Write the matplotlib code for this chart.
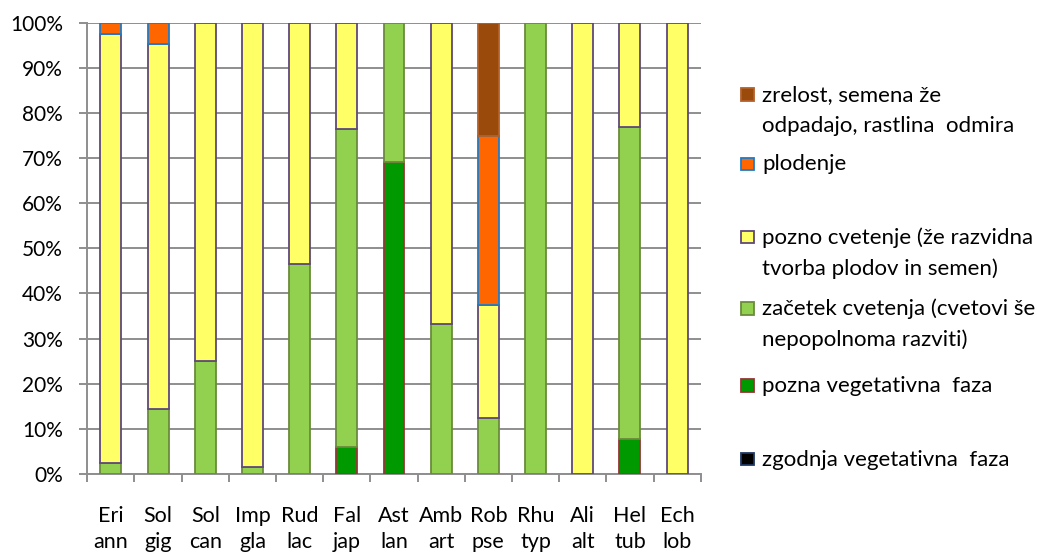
import matplotlib
matplotlib.use("Agg")
import matplotlib.pyplot as plt
from matplotlib.patches import Rectangle
from matplotlib.ticker import FuncFormatter, MultipleLocator, FixedLocator
import numpy as np

plt.rcParams['font.family'] = ['Lato', 'DejaVu Sans']

categories = ["Eri\nann", "Sol\ngig", "Sol\ncan", "Imp\ngla", "Rud\nlac", "Fal\njap", "Ast\nlan",
              "Amb\nart", "Rob\npse", "Rhu\ntyp", "Ali\nalt", "Hel\ntub", "Ech\nlob"]

zgodnja_veg = [0, 0, 0, 0, 0, 0, 0, 0, 0, 0, 0, 0, 0]
pozna_veg = [0, 0, 0, 0, 0, 5.9, 69.2, 0, 0, 0, 0, 7.7, 0]
zacetek_cvet = [2.4, 14.3, 25, 1.5, 46.5, 70.6, 30.8, 33.3, 12.5, 100, 0, 69.2, 0]
pozno_cvet = [95.2, 80.9, 75, 98.5, 53.5, 23.5, 0, 66.7, 25, 0, 100, 23.1, 100]
plodenje = [2.4, 4.8, 0, 0, 0, 0, 0, 0, 37.5, 0, 0, 0, 0]
zrelost = [0, 0, 0, 0, 0, 0, 0, 0, 25, 0, 0, 0, 0]

series_names = ["zgodnja vegetativna  faza", "pozna vegetativna  faza",
                "začetek cvetenja (cvetovi še\nnepopolnoma razviti)",
                "pozno cvetenje (že razvidna\ntvorba plodov in semen)",
                "plodenje",
                "zrelost, semena že\nodpadajo, rastlina  odmira"]
series = [zgodnja_veg, pozna_veg, zacetek_cvet, pozno_cvet, plodenje, zrelost]
fills = ['#000000', '#009900', '#92D050', '#FFFF66', '#FF6600', '#9A4A0B']
edges = ['#1F3864', '#953735', '#6B8B3D', '#5F497A', '#1C7CC9', '#B3612A']

W, H = 1037, 556
fig = plt.figure(figsize=(W / 100, H / 100), dpi=100)
left, right, top, bottom = 87.3, 700.7, 22.7, 474
ax = fig.add_axes([left / W, 1 - bottom / H, (right - left) / W, (bottom - top) / H])

x = np.arange(len(categories))
base = np.zeros(len(categories))
for vals, fc, ec in zip(series, fills, edges):
    v = np.array(vals, dtype=float)
    lw = [1.3 if a > 0 else 0 for a in v]
    ax.bar(x, v, bottom=base, width=0.445, color=fc, edgecolor=ec, linewidth=lw, zorder=3)
    base = base + v

grid_c = '#8E8E8E'
ax.set_xlim(-0.5, len(categories) - 0.5)
ax.set_ylim(0, 100)
ax.yaxis.set_major_locator(MultipleLocator(10))
ax.yaxis.set_major_formatter(FuncFormatter(lambda v, p: f"{int(round(v))}%"))
ax.grid(axis='y', color=grid_c, linewidth=1.4, zorder=0)
ax.set_axisbelow(True)

ax.set_xticks(x)
ax.set_xticklabels(categories, linespacing=1.4)
ax.xaxis.set_minor_locator(FixedLocator(np.arange(-0.5, len(categories), 1.0)))
ax.tick_params(axis='x', which='major', length=0, pad=23, labelsize=15.5, colors='black')
ax.tick_params(axis='x', which='minor', length=5.5, width=1.4, color=grid_c, direction='out')
ax.tick_params(axis='y', which='major', length=5.5, width=1.4, color=grid_c, direction='out',
               pad=12, labelsize=15, labelcolor='black')

for s in ['top', 'right']:
    ax.spines[s].set_visible(False)
for s in ['left', 'bottom']:
    ax.spines[s].set_color(grid_c)
    ax.spines[s].set_linewidth(1.4)

# legend (manually positioned, Excel-style)
leg_rows = [(5, 94.5), (4, 164), (3, 237), (2, 308.5), (1, 385.5), (0, 459)]
sq = 12.5
for idx, yc in leg_rows:
    x0 = 741
    fig.patches.append(Rectangle((x0 / W, 1 - (yc + sq / 2) / H), 13 / W, sq / H,
                                 transform=fig.transFigure, facecolor=fills[idx],
                                 edgecolor=edges[idx], linewidth=1.3))
    lines = series_names[idx].split("\n")
    for k, line in enumerate(lines):
        yb = yc + 6.5 + k * 31.5
        fig.text(762 / W, 1 - yb / H, line, fontsize=16, ha='left', va='baseline', color='black')

fig.savefig("out.png", dpi=100)
